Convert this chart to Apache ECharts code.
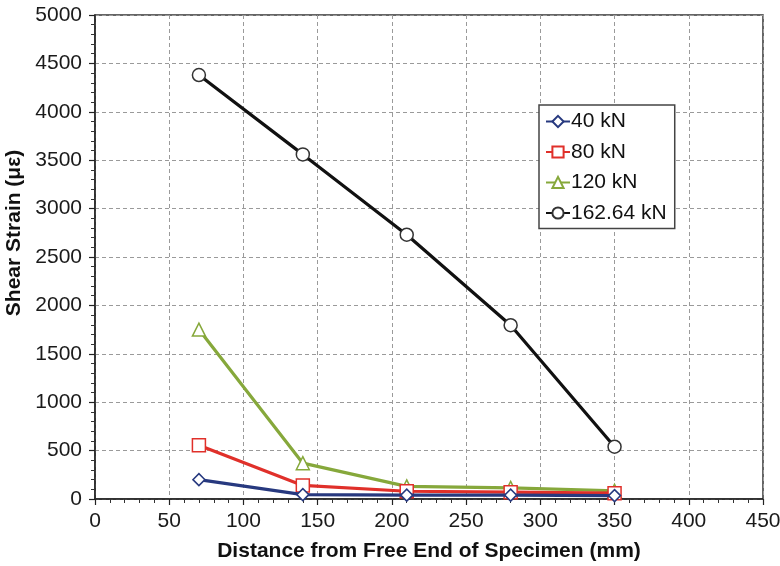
<!DOCTYPE html>
<html>
<head>
<meta charset="utf-8">
<script src="https://cdn.jsdelivr.net/npm/echarts@6/dist/echarts.min.js"></script>
<style>
  html, body { margin: 0; padding: 0; background: #ffffff; }
  #chart { width: 780px; height: 566px; }
</style>
</head>
<body>
<div id="chart"></div>
<script>
// Distance from the free end of the specimen (mm)
const distances = [70, 140, 210, 280, 350];

// Shear strain (µε) at each gauge position, per load level
const strain40 = [200, 45, 40, 40, 35];
const strain80 = [555, 140, 80, 70, 60];
const strain120 = [1750, 370, 130, 115, 85];
const strain162 = [4380, 3560, 2730, 1795, 540];

const seriesNames = ['40 kN', '80 kN', '120 kN', '162.64 kN'];
const seriesColors = ['#27397f', '#e0302a', '#86a83b', '#111111'];
const seriesSymbols = ['diamond', 'rect', 'triangle', 'circle'];
const seriesValues = [strain40, strain80, strain120, strain162];

const font = 'Liberation Sans, Arial, sans-serif';

const series = seriesNames.map((name, i) => ({
  name: name,
  type: 'line',
  data: distances.map((d, k) => [d, seriesValues[i][k]]),
  symbol: seriesSymbols[i],
  symbolSize: seriesSymbols[i] === 'diamond' ? 12 : 13,
  showAllSymbol: true,
  lineStyle: { color: seriesColors[i], width: 3.2 },
  itemStyle: {
    color: '#ffffff',
    borderColor: i === 3 ? '#333333' : seriesColors[i],
    borderWidth: 1.5
  },
  z: 2 + (3 - i),
  animation: false
}));

const chart = echarts.init(document.getElementById('chart'), null, { renderer: 'canvas' });
chart.setOption({
  backgroundColor: '#ffffff',
  animation: false,
  grid: { left: 95, right: 17, top: 15, bottom: 67, containLabel: false,
          outerBoundsMode: 'none',
          show: true, borderColor: '#333333', borderWidth: 1.5 },
  legend: {
    orient: 'vertical',
    left: 539,
    top: 105,
    width: 133,
    padding: [6, 8, 5, 6],
    itemGap: 9.5,
    itemWidth: 24,
    itemHeight: 14,
    backgroundColor: '#ffffff',
    borderColor: '#444444',
    borderWidth: 1.5,
    textStyle: { fontFamily: font, fontSize: 21, lineHeight: 21, color: '#111111', padding: [0, 0, 0, -4] },
    data: seriesNames
  },
  xAxis: {
    type: 'value',
    min: 0,
    max: 450,
    interval: 50,
    name: 'Distance from Free End of Specimen (mm)',
    nameLocation: 'middle',
    nameGap: 42,
    nameTextStyle: { fontFamily: font, fontSize: 21, fontWeight: 'bold', color: '#111111' },
    axisLine: { show: true, onZero: false, lineStyle: { color: '#222222', width: 1.5 } },
    axisTick: { show: true, length: 6, lineStyle: { color: '#222222', width: 1.2 } },
    minorTick: { show: true, splitNumber: 5, length: 4, lineStyle: { color: '#333333', width: 1 } },
    axisLabel: { fontFamily: font, fontSize: 21, color: '#1a1a1a', margin: 12 },
    splitLine: { show: true, lineStyle: { color: '#9a9a9a', type: [4, 3], width: 1 } }
  },
  yAxis: {
    type: 'value',
    min: 0,
    max: 5000,
    interval: 500,
    name: 'Shear Strain (\u03bc\u03b5)',
    nameLocation: 'middle',
    nameGap: 63,
    nameTextStyle: { fontFamily: font, fontSize: 21, fontWeight: 'bold', color: '#111111', padding: [0, 0, 0, 48] },
    axisLine: { show: true, lineStyle: { color: '#222222', width: 1.5 } },
    axisTick: { show: true, length: 6, lineStyle: { color: '#222222', width: 1.2 } },
    minorTick: { show: true, splitNumber: 5, length: 4, lineStyle: { color: '#333333', width: 1 } },
    axisLabel: { fontFamily: font, fontSize: 21, color: '#1a1a1a', margin: 13,
                 formatter: (v) => String(v) },
    splitLine: { show: true, lineStyle: { color: '#9a9a9a', type: [4, 3], width: 1 } }
  },
  series: series
});
</script>
</body>
</html>
